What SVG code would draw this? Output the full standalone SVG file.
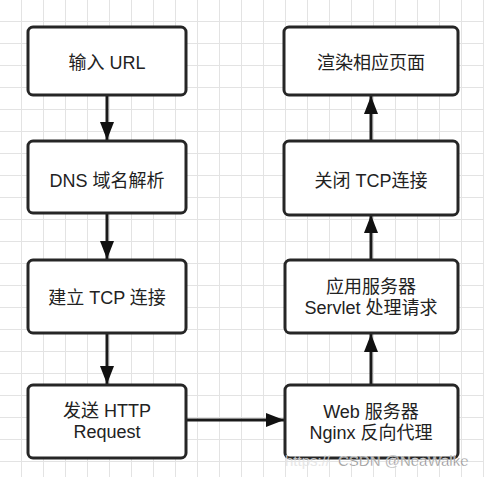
<svg xmlns="http://www.w3.org/2000/svg" width="484" height="477" viewBox="0 0 484 477">
<style>
.box{fill:#ffffff;stroke:#262626;stroke-width:3}
.t{font-family:"Liberation Sans","Noto Sans CJK SC",sans-serif;font-size:18px;fill:#222222;text-anchor:middle}
.c{stroke:#1a1a1a;stroke-width:3;fill:none}
.wm{font-family:"Liberation Sans","Noto Sans CJK SC",sans-serif;font-size:15px}
</style>
<defs>
<pattern id="grid" patternUnits="userSpaceOnUse" x="21" y="21" width="22" height="22">
<path d="M0.5 0V22M0 0.5H22" stroke="#e3e3e3" stroke-width="1" fill="none"/>
</pattern>
<marker id="ah" viewBox="0 0 18 14" refX="18" refY="7" markerWidth="18" markerHeight="14" markerUnits="userSpaceOnUse" orient="auto">
<path d="M0 0L18 7L0 14Z" fill="#111111"/>
</marker>
</defs>
<rect width="484" height="477" fill="#ffffff"/>
<rect width="484" height="477" fill="url(#grid)"/>
<g id="connectors">
<line class="c" x1="107" y1="96" x2="107" y2="140" marker-end="url(#ah)"/>
<line class="c" x1="107" y1="214" x2="107" y2="259" marker-end="url(#ah)"/>
<line class="c" x1="107" y1="334" x2="107" y2="384" marker-end="url(#ah)"/>
<line class="c" x1="187" y1="420" x2="284" y2="420" marker-end="url(#ah)"/>
<line class="c" x1="371" y1="384" x2="371" y2="334" marker-end="url(#ah)"/>
<line class="c" x1="371" y1="260" x2="371" y2="215" marker-end="url(#ah)"/>
<line class="c" x1="371" y1="141" x2="371" y2="96" marker-end="url(#ah)"/>
</g>
<g id="n1"><rect class="box" x="28" y="27" width="158" height="68" rx="5"/><text class="t" x="107" y="69">输入 URL</text></g>
<g id="n2"><rect class="box" x="28" y="141" width="158" height="72" rx="5"/><text class="t" x="107" y="187">DNS 域名解析</text></g>
<g id="n3"><rect class="box" x="28" y="260" width="158" height="73" rx="5"/><text class="t" x="107" y="304">建立 TCP 连接</text></g>
<g id="n4"><rect class="box" x="28" y="385" width="158" height="73" rx="5"/><text class="t" x="107" y="417">发送 HTTP</text><text class="t" x="107" y="438">Request</text></g>
<g id="n5"><rect class="box" x="285" y="385" width="173" height="73" rx="5"/><text class="t" x="371" y="418">Web 服务器</text><text class="t" x="371" y="439">Nginx 反向代理</text></g>
<g id="n6"><rect class="box" x="285" y="260" width="173" height="73" rx="5"/><text class="t" x="371" y="293">应用服务器</text><text class="t" x="371" y="314">Servlet 处理请求</text></g>
<g id="n7"><rect class="box" x="284" y="141" width="174" height="74" rx="5"/><text class="t" x="371" y="187">关闭 TCP连接</text></g>
<g id="n8"><rect class="box" x="284" y="27" width="174" height="68" rx="5"/><text class="t" x="371" y="69">渲染相应页面</text></g>
<g id="watermark">
<text class="wm" x="285" y="466" fill="#e2e2e2" opacity="0.8">https://</text>
<text class="wm" x="338" y="466" fill="#858585" stroke="#ffffff" stroke-width="0.35">CSDN @NeaWalke</text>
</g>
</svg>
